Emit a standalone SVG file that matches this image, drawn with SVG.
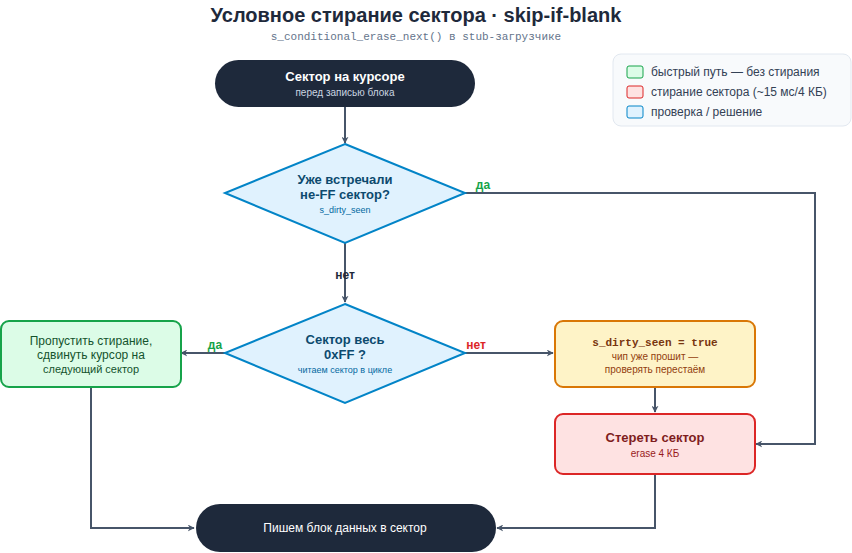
<svg xmlns="http://www.w3.org/2000/svg" width="852" height="553" viewBox="0 0 852 553">
<defs>
<marker id="ah" viewBox="0 0 10 10" refX="9" refY="5" markerWidth="7" markerHeight="7" markerUnits="userSpaceOnUse" orient="auto"><path d="M0,0 L10,5 L0,10 L3,5 z" fill="#475569"/></marker>
<style>
text{font-family:"Liberation Sans",Arial,sans-serif;text-anchor:middle}
.c{fill:none;stroke:#475569;stroke-width:2;marker-end:url(#ah)}
.dark{fill:#1e293b}
.t1{font-size:13px;font-weight:bold}
.t2{font-size:10px}
.dia{fill:#e0f2fe;stroke:#0284c7;stroke-width:2}
</style>
</defs>
<rect width="852" height="553" fill="#fff"/>
<text x="416" y="22" font-size="20" font-weight="bold" fill="#1e293b">Условное стирание сектора · skip-if-blank</text>
<text x="416" y="40" font-size="11" fill="#64748b" style="font-family:'Liberation Mono',monospace">s_conditional_erase_next() в stub-загрузчике</text>
<g id="legend">
<rect x="613" y="54" width="238" height="72" rx="8" fill="#f8fafc" stroke="#e2e8f0"/>
<rect x="627" y="66" width="16" height="12" rx="2" fill="#dcfce7" stroke="#16a34a"/>
<text x="651" y="76" font-size="12" fill="#334155" style="text-anchor:start">быстрый путь — без стирания</text>
<rect x="627" y="86" width="16" height="12" rx="2" fill="#fee2e2" stroke="#dc2626"/>
<text x="651" y="96" font-size="12" fill="#334155" style="text-anchor:start">стирание сектора (~15 мс/4 КБ)</text>
<rect x="627" y="106" width="16" height="12" rx="2" fill="#e0f2fe" stroke="#0284c7"/>
<text x="651" y="116" font-size="12" fill="#334155" style="text-anchor:start">проверка / решение</text>
</g>
<g id="connectors">
<path class="c" d="M345,107 V143"/>
<path class="c" d="M345,243 V302"/>
<path class="c" d="M465,193 H815 V444 H756"/>
<path class="c" d="M226,353 H181"/>
<path class="c" d="M465,353 H553"/>
<path class="c" d="M655,388 V412"/>
<path class="c" d="M91,387 V528 H194"/>
<path class="c" d="M655,474 V528 H497"/>
<text x="483" y="189" font-size="12" font-weight="bold" fill="#16a34a">да</text>
<text x="345" y="279" font-size="12" font-weight="bold" fill="#1e293b">нет</text>
<text x="215" y="349" font-size="12" font-weight="bold" fill="#16a34a">да</text>
<text x="476" y="349" font-size="12" font-weight="bold" fill="#dc2626">нет</text>
</g>
<g id="start">
<rect x="215" y="60" width="260" height="47" rx="23.5" class="dark"/>
<text x="345" y="81" class="t1" fill="#fff">Сектор на курсоре</text>
<text x="345" y="96" class="t2" fill="#cbd5e1">перед записью блока</text>
</g>
<g id="d1">
<polygon points="345,144 465,193 345,243 225,193" class="dia"/>
<text x="345" y="184" class="t1" fill="#0c4a6e">Уже встречали</text>
<text x="345" y="199" class="t1" fill="#0c4a6e">не-FF сектор?</text>
<text x="345" y="213" font-size="9" fill="#0369a1">s_dirty_seen</text>
</g>
<g id="d2">
<polygon points="345,304 465,353 345,403 225,353" class="dia"/>
<text x="345" y="344" class="t1" fill="#0c4a6e">Сектор весь</text>
<text x="345" y="359" class="t1" fill="#0c4a6e">0xFF ?</text>
<text x="345" y="373" font-size="9" fill="#0369a1">читаем сектор в цикле</text>
</g>
<g id="skip">
<rect x="1" y="321" width="180" height="66" rx="8" fill="#dcfce7" stroke="#16a34a" stroke-width="2"/>
<text x="91" y="345" font-size="12" fill="#14532d">Пропустить стирание,</text>
<text x="91" y="359" font-size="12" fill="#14532d">сдвинуть курсор на</text>
<text x="91" y="373" font-size="11" fill="#14532d">следующий сектор</text>
</g>
<g id="dirty">
<rect x="555" y="321" width="200" height="66" rx="8" fill="#fef3c7" stroke="#d97706" stroke-width="2"/>
<text x="655" y="346" font-size="11" font-weight="bold" fill="#78350f" style="font-family:'Liberation Mono',monospace">s_dirty_seen = true</text>
<text x="655" y="360" font-size="10" fill="#92400e">чип уже прошит —</text>
<text x="655" y="373" font-size="10" fill="#92400e">проверять перестаём</text>
</g>
<g id="erase">
<rect x="555" y="414" width="200" height="60" rx="8" fill="#fee2e2" stroke="#dc2626" stroke-width="2"/>
<text x="655" y="442" class="t1" fill="#7f1d1d">Стереть сектор</text>
<text x="655" y="457" class="t2" fill="#991b1b">erase 4 КБ</text>
</g>
<g id="write">
<rect x="196" y="504" width="300" height="48" rx="24" class="dark"/>
<text x="345" y="532" font-size="12" fill="#fff">Пишем блок данных в сектор</text>
</g>
</svg>
